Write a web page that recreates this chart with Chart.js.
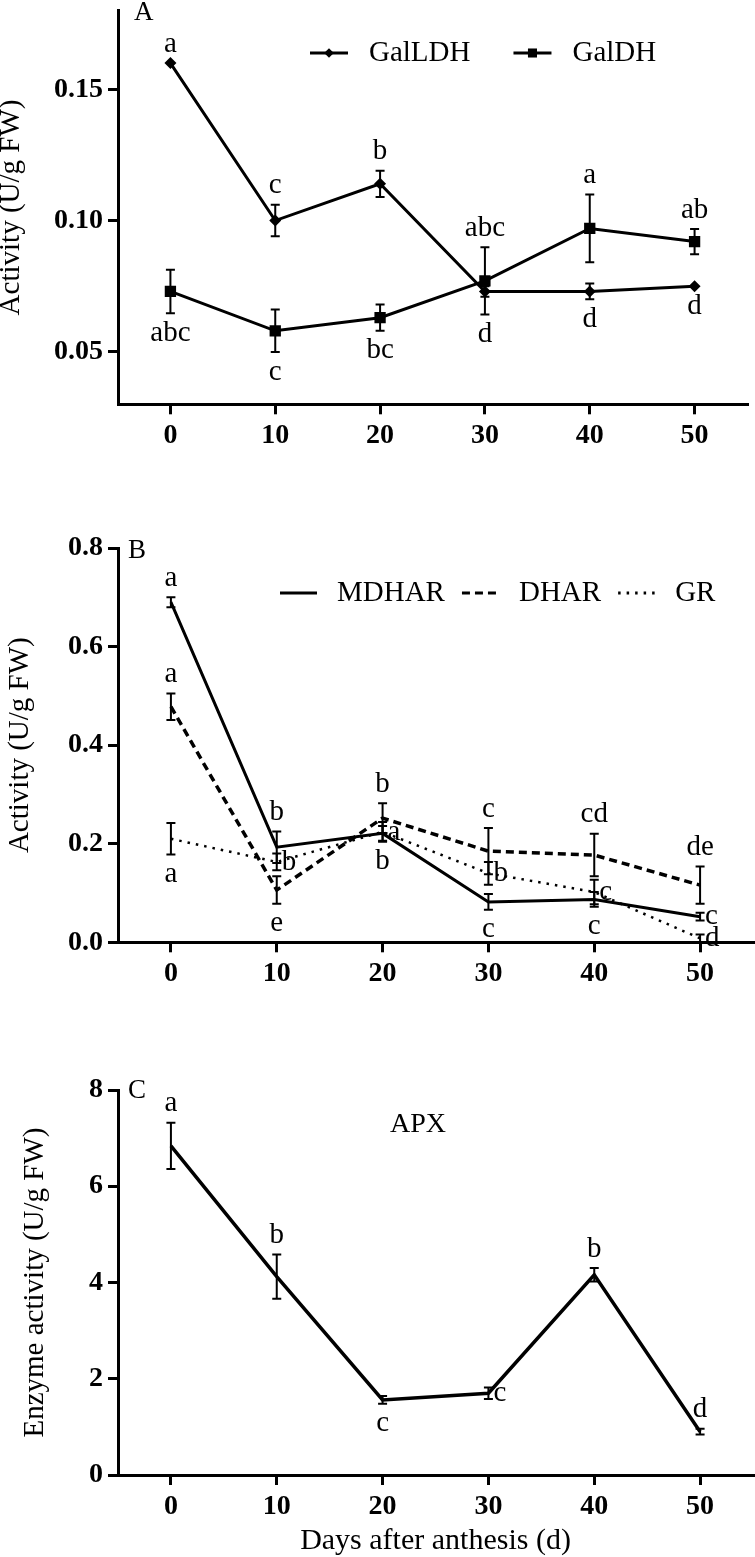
<!DOCTYPE html>
<html>
<head>
<meta charset="utf-8">
<script src="https://cdn.jsdelivr.net/npm/chart.js@4.4.1/dist/chart.umd.min.js"></script>
<style>
  body { margin: 0; background: #fff; width: 755px; height: 1557px; position: relative; overflow: hidden; }
  canvas { position: absolute; left: 0; }
</style>
</head>
<body>
<canvas id="panelA" width="755" height="470" style="top:0px"></canvas>
<canvas id="panelB" width="755" height="500" style="top:500px"></canvas>
<canvas id="panelC" width="755" height="517" style="top:1040px"></canvas>
<script>
// days after anthesis
const days = [0, 10, 20, 30, 40, 50];

// A - GalLDH / GalDH
const galldh = [0.160, 0.100, 0.114, 0.073, 0.073, 0.075];
const galldhErr = [0, 0.006, 0.005, 0.002, 0.003, 0];
const galldhLetters = ['a', 'c', 'b', 'd', 'd', 'd'];
const galldhSide = ['up', 'up', 'up', 'down', 'down', 'down'];
const galdh = [0.073, 0.058, 0.063, 0.077, 0.097, 0.092];
const galdhErr = [0.0083, 0.0081, 0.005, 0.0128, 0.0129, 0.0048];
const galdhLetters = ['abc', 'c', 'bc', 'abc', 'a', 'ab'];
const galdhSide = ['down', 'down', 'down', 'up', 'up', 'up'];
const ticksA = [0.05, 0.10, 0.15];

// B - MDHAR / DHAR / GR
const mdhar = [0.69, 0.193, 0.221, 0.082, 0.087, 0.052];
const mdharErr = [0.01, 0.032, 0.015, 0.016, 0.015, 0.008];
const mdharLetters = ['a', 'b', 'b', 'c', 'c', 'c'];
const mdharSide = ['up', 'up', 'down', 'down', 'down', 'right'];
const dhar = [0.478, 0.106, 0.252, 0.185, 0.177, 0.116];
const dharErr = [0.027, 0.028, 0.03, 0.047, 0.043, 0.038];
const dharLetters = ['a', 'e', 'b', 'c', 'cd', 'de'];
const dharSide = ['up', 'down', 'up', 'up', 'up', 'up'];
const gr = [0.21, 0.163, 0.224, 0.14, 0.102, 0.008];
const grErr = [0.032, 0.017, 0.02, 0.023, 0.025, 0.008];
const grLetters = ['a', 'b', 'a', 'b', 'c', 'd'];
const grSide = ['down', 'right', 'right', 'right', 'right', 'right'];
const ticksB = [0, 0.2, 0.4, 0.6, 0.8];

// C - APX
const apx = [6.84, 4.12, 1.56, 1.70, 4.16, 0.90];
const apxErr = [0.48, 0.46, 0.08, 0.12, 0.14, 0.06];
const apxLetters = ['a', 'b', 'c', 'c', 'b', 'd'];
const apxSide = ['up', 'up', 'down', 'right', 'up', 'up'];
const ticksC = [0, 2, 4, 6, 8];

Chart.defaults.font.family = '"Liberation Serif", "Times New Roman", serif';
Chart.defaults.color = '#000';

const pts = vals => days.map((d, i) => ({ x: d, y: vals[i] }));

// error bars + significance letters
// a letter clears every error bar that overlaps its own at that day
const errorBars = {
    id: 'errorBars',
    afterDatasetsDraw(chart) {
        const { ctx, scales: { x, y } } = chart;
        const sets = chart.data.datasets;
        ctx.save();
        ctx.strokeStyle = '#000';
        ctx.lineWidth = 2;
        ctx.setLineDash([]);
        sets.forEach(ds => {
            ds.data.forEach((p, i) => {
                const e = ds.errors[i];
                const px = x.getPixelForValue(p.x);
                const top = y.getPixelForValue(p.y + e);
                const bot = y.getPixelForValue(p.y - e);
                if (e) {
                    ctx.beginPath();
                    ctx.moveTo(px, top); ctx.lineTo(px, bot);
                    ctx.moveTo(px - 4.5, top); ctx.lineTo(px + 4.5, top);
                    ctx.moveTo(px - 4.5, bot); ctx.lineTo(px + 4.5, bot);
                    ctx.stroke();
                }
                const near = sets.filter(o => o.data[i].y - o.errors[i] <= p.y + e && o.data[i].y + o.errors[i] >= p.y - e);
                const hi = Math.max(...near.map(o => o.data[i].y + o.errors[i]));
                const lo = Math.min(...near.map(o => o.data[i].y - o.errors[i]));
                const side = ds.side[i];
                ctx.fillStyle = '#000';
                ctx.font = '29px "Liberation Serif"';
                ctx.textBaseline = 'middle';
                if (side === 'up') {
                    ctx.textAlign = 'center';
                    ctx.fillText(ds.letters[i], px, y.getPixelForValue(hi) - 19);
                } else if (side === 'down') {
                    ctx.textAlign = 'center';
                    ctx.fillText(ds.letters[i], px, y.getPixelForValue(lo) + 20);
                } else {
                    ctx.textAlign = 'left';
                    ctx.fillText(ds.letters[i], px + 5, y.getPixelForValue(p.y));
                }
            });
        });
        ctx.restore();
    }
};

// line-sample legend and free text (panel letter, APX)
const keyLegend = {
    id: 'keyLegend',
    afterDraw(chart, args, opts) {
        const ctx = chart.ctx;
        ctx.save();
        ctx.fillStyle = '#000';
        ctx.textBaseline = 'alphabetic';
        (opts.texts || []).forEach(t => {
            ctx.font = t.size + 'px "Liberation Serif"';
            ctx.textAlign = t.align || 'left';
            ctx.fillText(t.text, t.x, t.y);
        });
        if (opts.x !== undefined) {
            let x = opts.x;
            ctx.font = '29px "Liberation Serif"';
            ctx.textBaseline = 'middle';
            ctx.textAlign = 'left';
            chart.data.datasets.forEach(ds => {
                ctx.strokeStyle = '#000';
                ctx.lineWidth = 3;
                ctx.setLineDash(ds.borderDash || []);
                ctx.beginPath();
                ctx.moveTo(x, opts.y); ctx.lineTo(x + opts.sample, opts.y);
                ctx.stroke();
                ctx.setLineDash([]);
                if (ds.pointRadius > 0) {
                    Chart.helpers.drawPoint(ctx, { pointStyle: ds.pointStyle, radius: ds.pointRadius * 0.8, rotation: 0, borderWidth: 0 }, x + opts.sample / 2, opts.y);
                }
                x += opts.sample + opts.gap;
                ctx.fillText(ds.label, x, opts.y);
                x += ctx.measureText(ds.label).width + opts.itemGap;
            });
        }
        ctx.restore();
    }
};

function xAxis(height, title) {
    return {
        type: 'linear', min: -5, max: 55,
        afterBuildTicks: s => { s.ticks = days.map(v => ({ value: v })); },
        afterFit: s => { s.height = height; s.paddingLeft = 0; s.paddingRight = 0; },
        grid: { drawOnChartArea: false, color: '#000', lineWidth: 3, tickLength: 10 },
        border: { color: '#000', width: 3 },
        ticks: { font: { size: 28, weight: 'bold' }, padding: 5, maxRotation: 0, autoSkip: false },
        title: { display: !!title, text: title, font: { size: 30 }, padding: { top: 0, bottom: -2 } }
    };
}

function yAxis(min, max, tickVals, digits, title, titleShift) {
    return {
        min: min, max: max,
        afterBuildTicks: s => { s.ticks = tickVals.map(v => ({ value: v })); },
        afterFit: s => { s.width = 118; s.paddingTop = 0; s.paddingBottom = 0; },
        grid: { drawOnChartArea: false, color: '#000', lineWidth: 3, tickLength: 10 },
        border: { color: '#000', width: 3 },
        ticks: { font: { size: 28, weight: 'bold' }, padding: 5, callback: v => v.toFixed(digits) },
        title: { display: true, text: title, font: { size: 29 }, padding: { top: titleShift, bottom: 0 } }
    };
}

const baseOpts = { responsive: false, animation: false, events: [] };

new Chart(document.getElementById('panelA'), {
    type: 'line',
    data: {
        datasets: [{
            label: 'GalLDH', data: pts(galldh), errors: galldhErr, letters: galldhLetters, side: galldhSide,
            borderColor: '#000', borderWidth: 3, pointStyle: 'rectRot', pointRadius: 6,
            pointBackgroundColor: '#000', pointBorderWidth: 0
        }, {
            label: 'GalDH', data: pts(galdh), errors: galdhErr, letters: galdhLetters, side: galdhSide,
            borderColor: '#000', borderWidth: 3, pointStyle: 'rect', pointRadius: 8,
            pointBackgroundColor: '#000', pointBorderWidth: 0
        }]
    },
    options: Object.assign({}, baseOpts, {
        layout: { padding: { top: 10.6, left: 0, right: 2, bottom: 0 } },
        plugins: {
            legend: { display: false }, tooltip: { enabled: false },
            keyLegend: { x: 310, y: 53, sample: 38, gap: 21, itemGap: 43,
                texts: [{ text: 'A', x: 134, y: 20, size: 27 }] }
        },
        scales: {
            x: xAxis(65.7),
            y: yAxis(0.03, 0.18, ticksA, 2, 'Activity (U/g FW)', -6.4)
        }
    }),
    plugins: [errorBars, keyLegend]
});

new Chart(document.getElementById('panelB'), {
    type: 'line',
    data: {
        datasets: [{
            label: 'MDHAR', data: pts(mdhar), errors: mdharErr, letters: mdharLetters, side: mdharSide,
            borderColor: '#000', borderWidth: 3, pointRadius: 0
        }, {
            label: 'DHAR', data: pts(dhar), errors: dharErr, letters: dharLetters, side: dharSide,
            borderColor: '#000', borderWidth: 3.5, borderDash: [8, 5], pointRadius: 0
        }, {
            label: 'GR', data: pts(gr), errors: grErr, letters: grLetters, side: grSide,
            borderColor: '#000', borderWidth: 2.5, borderDash: [2.5, 6], pointRadius: 0
        }]
    },
    options: Object.assign({}, baseOpts, {
        layout: { padding: { top: 48, left: 0, right: 2, bottom: 0 } },
        plugins: {
            legend: { display: false }, tooltip: { enabled: false },
            keyLegend: { x: 280, y: 93, sample: 37, gap: 20, itemGap: 17,
                texts: [{ text: 'B', x: 128, y: 58, size: 27 }] }
        },
        scales: {
            x: xAxis(57.7),
            y: yAxis(0, 0.8, ticksB, 1, 'Activity (U/g FW)', 3.1)
        }
    }),
    plugins: [errorBars, keyLegend]
});

new Chart(document.getElementById('panelC'), {
    type: 'line',
    data: {
        datasets: [{
            label: 'APX', data: pts(apx), errors: apxErr, letters: apxLetters, side: apxSide,
            borderColor: '#000', borderWidth: 3.5, pointRadius: 0
        }]
    },
    options: Object.assign({}, baseOpts, {
        layout: { padding: { top: 50, left: 0, right: 2, bottom: 0 } },
        plugins: {
            legend: { display: false }, tooltip: { enabled: false },
            keyLegend: { texts: [
                { text: 'C', x: 128, y: 58, size: 27 },
                { text: 'APX', x: 418, y: 92, size: 28, align: 'center' }
            ] }
        },
        scales: {
            x: xAxis(82, 'Days after anthesis (d)'),
            y: yAxis(0, 8, ticksC, 0, 'Enzyme activity (U/g FW)', 18.1)
        }
    }),
    plugins: [errorBars, keyLegend]
});
</script>
</body>
</html>
